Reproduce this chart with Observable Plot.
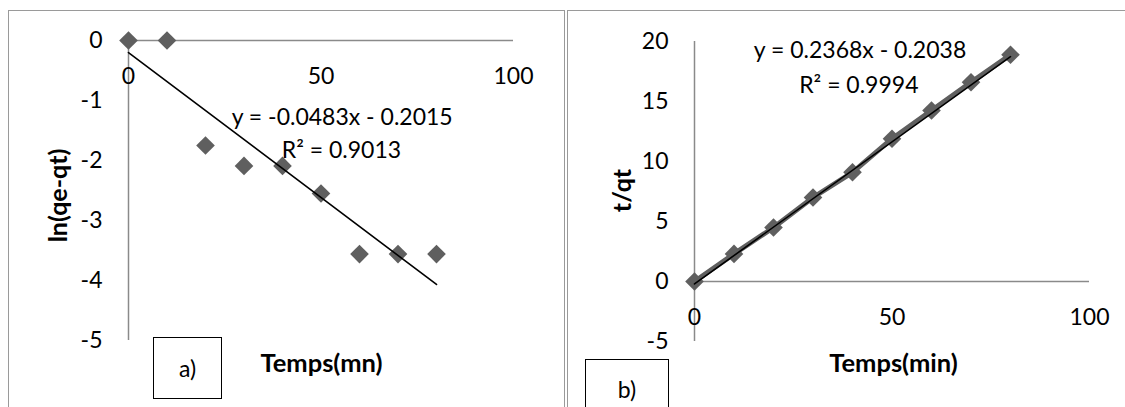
<!DOCTYPE html>
<html>
<head>
<meta charset="utf-8">
<script src="https://cdn.jsdelivr.net/npm/d3@7"></script>
<script src="https://cdn.jsdelivr.net/npm/@observablehq/plot@0.6"></script>
<style>
  html, body { margin: 0; padding: 0; background: #fff; }
  #wrap { position: relative; width: 1125px; height: 407px; overflow: hidden; font-family: Lato, "Open Sans", sans-serif; }
  .frame { position: absolute; border: 1.5px solid #9a9a9a; box-sizing: border-box; }
  .panel { position: absolute; top: 0; }
  .tag { position: absolute; border: 1.5px solid #000; background: #fff; box-sizing: border-box;
         font-size: 23px; display: flex; align-items: center; justify-content: center; color: #000; }
</style>
</head>
<body>
<div id="wrap">
  <div class="frame" style="left:8px; top:10px; width:557px; height:420px;"></div>
  <div class="frame" style="left:567px; top:10px; width:600px; height:420px;"></div>
  <div id="pa" class="panel" style="left:0px;"></div>
  <div id="pb" class="panel" style="left:565px;"></div>
  <div class="tag" style="left:153px; top:337px; width:69px; height:62px;">a)</div>
  <div class="tag" style="left:585px; top:359px; width:84px; height:60px;">b)</div>
</div>
<script>
// ---- data ----
const timeA = [0, 10, 20, 30, 40, 50, 60, 70, 80];
const lnQ = [0, 0, -1.75, -2.09, -2.09, -2.55, -3.56, -3.56, -3.56];
const timeB = [0, 10, 20, 30, 40, 50, 60, 70, 80];
const tOverQ = [0, 2.3, 4.5, 7.0, 9.1, 11.9, 14.25, 16.6, 18.9];
const xTicks = [0, 50, 100];
const yTicksA = [0, -1, -2, -3, -4, -5];
const yTicksB = [20, 15, 10, 5, 0, -5];
const fitA = {slope: -0.0483, intercept: -0.2015, r2: "0.9013"};
const fitB = {slope: 0.2368, intercept: -0.2038, r2: "0.9994"};

const FONT = "Lato, 'Open Sans', sans-serif";
const AXIS = "#8a8a8a";
const MARK = "#5f5f5f";

const ptsA = timeA.map((t, i) => ({x: t, y: lnQ[i]}));
const ptsB = timeB.map((t, i) => ({x: t, y: tOverQ[i]}));
const lineOf = (f, x0, x1) => [x0, x1].map(x => ({x, y: f.slope * x + f.intercept}));
const eq = f => `y = ${f.slope.toFixed(4)}x - ${Math.abs(f.intercept).toFixed(4)}`;

function panel({pts, fit, yDomain, yTicks, ml, mr, mt, mb, width, ylabel, xlabel, eqPos, r2Pos, ylabelX, ylabelY, xlabelX, connect}) {
  return Plot.plot({
    width, height: 407,
    marginLeft: ml, marginRight: mr, marginTop: mt, marginBottom: mb,
    style: {fontFamily: FONT, background: "transparent", overflow: "visible"},
    x: {domain: [0, 100], axis: null},
    y: {domain: yDomain},
    marks: [
      Plot.ruleY([0], {x1: 0, x2: 100, stroke: AXIS, strokeWidth: 1.5}),
      Plot.ruleX([0], {y1: yDomain[0], y2: yDomain[1], stroke: AXIS, strokeWidth: 1.5}),
      Plot.axisY({ticks: yTicks, tickSize: 0, tickPadding: 26, fontSize: 23, fill: "#000", label: null, tickFormat: d => String(d)}),
      Plot.text(xTicks, {x: d => d, y: 0, dy: 36, text: d => String(d), fontSize: 23, fill: "#000"}),
      connect ? Plot.line(pts, {x: "x", y: "y", stroke: MARK, strokeWidth: 5}) : null,
      Plot.dot(pts, {x: "x", y: "y", symbol: "diamond2", r: 8.4, fill: MARK, stroke: "none"}),
      Plot.line(lineOf(fit, 0, 80), {x: "x", y: "y", stroke: "#000", strokeWidth: 1.6}),
      Plot.text([eq(fit)], {x: eqPos[0], y: eqPos[1], text: d => d, fontSize: 23, fill: "#000"}),
      Plot.text([`R² = ${fit.r2}`], {x: r2Pos[0], y: r2Pos[1], text: d => d, fontSize: 23, fill: "#000"}),
      Plot.text([ylabel], {frameAnchor: "top-left", dx: ylabelX - ml, dy: ylabelY - mt, text: d => d, textAnchor: "middle", lineAnchor: "middle", rotate: -90, fontSize: 25, fontWeight: "bold", fill: "#000"}),
      Plot.text([xlabel], {frameAnchor: "top-left", dx: xlabelX - ml, dy: 363 - mt, text: d => d, textAnchor: "middle", lineAnchor: "middle", fontSize: 25.5, fontWeight: "bold", fill: "#000"})
    ]
  });
}

document.getElementById("pa").append(panel({
  pts: ptsA, fit: fitA, yDomain: [-5, 0], yTicks: yTicksA,
  width: 563, ml: 128, mr: 50, mt: 40, mb: 67,
  ylabel: "ln(qe-qt)", xlabel: "Temps(mn)",
  eqPos: [55.5, -1.29], r2Pos: [55.3, -1.84],
  ylabelX: 58, ylabelY: 195, xlabelX: 321, connect: false
}));

document.getElementById("pb").append(panel({
  pts: ptsB, fit: fitB, yDomain: [-5, 20], yTicks: yTicksB,
  width: 560, ml: 129, mr: 36, mt: 41, mb: 66,
  ylabel: "t/qt", xlabel: "Temps(min)",
  eqPos: [41.9, 19.25], r2Pos: [41.6, 16.33],
  ylabelX: 622 - 565, ylabelY: 190, xlabelX: 893 - 565, connect: true
}));
</script>
</body>
</html>
